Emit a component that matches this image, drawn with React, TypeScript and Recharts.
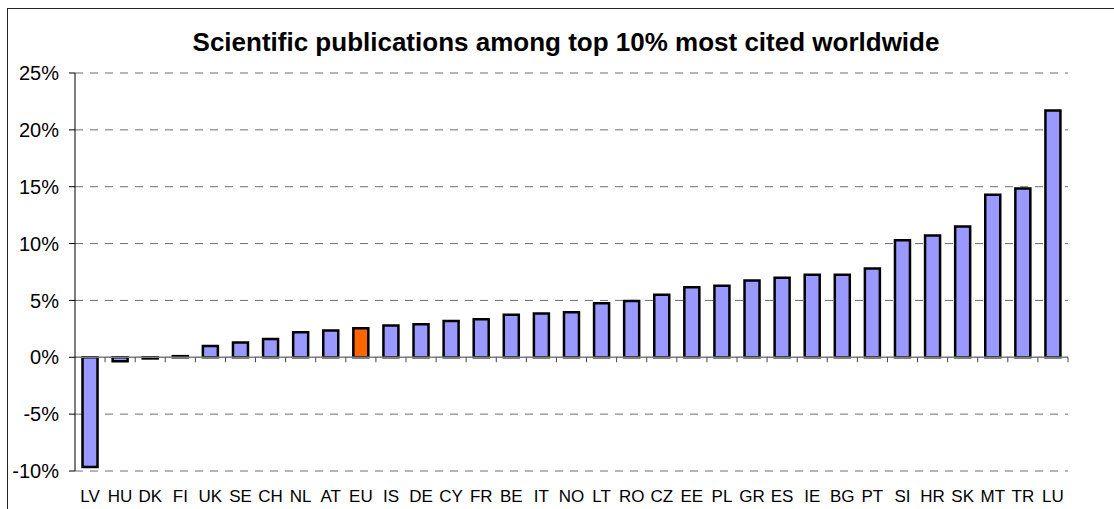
import { BarChart, Bar, XAxis, YAxis, CartesianGrid, ReferenceLine, Cell } from "recharts";

const countries = [
  "LV", "HU", "DK", "FI", "UK", "SE", "CH", "NL", "AT", "EU", "IS",
  "DE", "CY", "FR", "BE", "IT", "NO", "LT", "RO", "CZ", "EE", "PL",
  "GR", "ES", "IE", "BG", "PT", "SI", "HR", "SK", "MT", "TR", "LU",
];
const shares = [
  -9.65, -0.35, -0.1, 0.1, 1.0, 1.3, 1.6, 2.2, 2.35, 2.55, 2.8,
  2.9, 3.2, 3.35, 3.75, 3.85, 3.95, 4.75, 4.95, 5.5, 6.15, 6.3,
  6.75, 7.0, 7.25, 7.25, 7.8, 10.3, 10.7, 11.5, 14.3, 14.85, 21.7,
];
const yTicks = [-10, -5, 0, 5, 10, 15, 20, 25];
const highlighted = "EU";

const data = countries.map((country, i) => ({ country, value: shares[i] }));

const FONT = "'Liberation Sans', Arial, sans-serif";

function CountryTick(props: any) {
  const { x, y, payload } = props;
  return (
    <text x={x} y={y} dy={23} textAnchor="middle" fontSize={17} fill="#000" fontFamily={FONT}>
      {payload.value}
    </text>
  );
}

// Excel-style category axis sitting on the zero line, ticks between categories
function ZeroAxis(props: any) {
  const { x1, x2, y1 } = props;
  const step = (x2 - x1) / countries.length;
  const marks = [];
  for (let i = 1; i <= countries.length; i++) {
    const tx = x1 + step * i;
    marks.push(<line key={i} x1={tx} x2={tx} y1={y1} y2={y1 + 5} stroke="#444" strokeWidth={1} />);
  }
  return (
    <g>
      <line x1={x1} x2={x2} y1={y1} y2={y1} stroke="#808080" strokeWidth={1.5} />
      {marks}
    </g>
  );
}

export default function App() {
  return (
    <div style={{ position: "fixed", left: 0, top: 0, width: 1114, height: 509, overflow: "hidden", background: "#fff" }}>
      <div
        style={{
          position: "absolute",
          left: 7,
          top: 8,
          width: 1107,
          height: 501,
          borderTop: "1px solid #222",
          borderLeft: "1px solid #222",
        }}
      >
        <BarChart
          width={1106}
          height={501}
          data={data}
          margin={{ top: 64, right: 46, bottom: 9, left: 7 }}
          barCategoryGap="25%"
        >
          <CartesianGrid vertical={false} stroke="#6f6f6f" strokeDasharray="8 7" />
          <YAxis
            domain={[-10, 25]}
            ticks={yTicks}
            width={60}
            tickFormatter={(v: number) => `${v}%`}
            tick={{ fill: "#000", fontSize: 20, fontFamily: FONT }}
            tickSize={6}
            tickMargin={10}
            axisLine={{ stroke: "#000" }}
            tickLine={{ stroke: "#000" }}
          />
          <XAxis
            dataKey="country"
            interval={0}
            height={30}
            axisLine={false}
            tickLine={false}
            tick={<CountryTick />}
          />
          <Bar dataKey="value" fill="#9999FF" stroke="#000" strokeWidth={2.5} isAnimationActive={false}>
            {data.map((d) => (
              <Cell key={d.country} fill={d.country === highlighted ? "#FF6600" : "#9999FF"} />
            ))}
          </Bar>
          <ReferenceLine y={0} shape={<ZeroAxis />} />
        </BarChart>
      </div>
      <div
        style={{
          position: "absolute",
          left: 166,
          top: 29,
          width: 800,
          textAlign: "center",
          fontFamily: FONT,
          fontWeight: "bold",
          fontSize: 26,
          lineHeight: "26px",
          color: "#000",
          whiteSpace: "nowrap",
        }}
      >
        Scientific publications among top 10% most cited worldwide
      </div>
    </div>
  );
}
